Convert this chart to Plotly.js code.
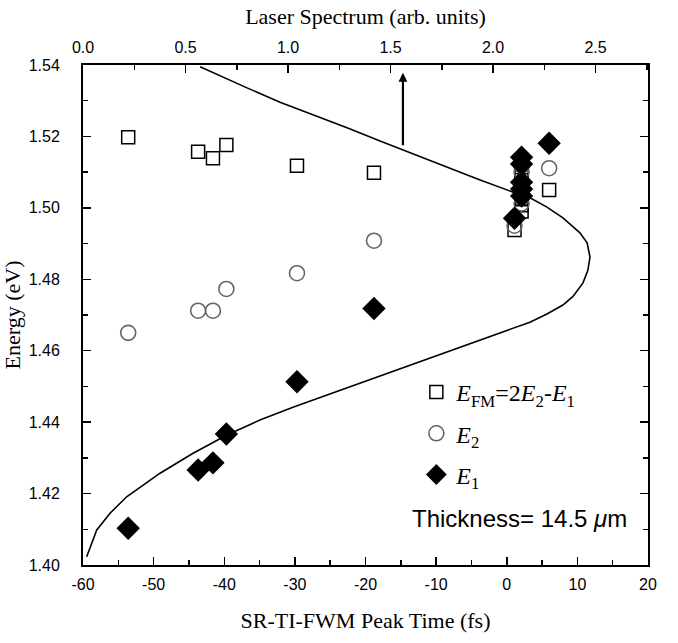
<!DOCTYPE html>
<html>
<head>
<meta charset="utf-8">
<script src="https://cdn.plot.ly/plotly-3.0.1.min.js"></script>
<style>html,body{margin:0;padding:0;background:#fff;}#chart{width:678px;height:643px;}</style>
</head>
<body>
<div id="chart"></div>
<script>
// ---- Data ----
// Peak times (fs) for each measurement
const peakTime = [-53.6, -43.7, -41.6, -39.7, -29.7, -18.8, 1.1, 2.1, 2.1, 2.1, 2.1, 2.1, 6.0];
// E1 (eV)
const energyE1 = [1.4103, 1.4266, 1.4286, 1.4367, 1.4513, 1.4718, 1.4971, 1.5142, 1.5123, 1.5072, 1.5053, 1.5033, 1.5181];
// E2 (eV)
const energyE2 = [1.4650, 1.4712, 1.4712, 1.4773, 1.4817, 1.4908, 1.4950, 1.5118, 1.5100, 1.5048, 1.5030, 1.5012, 1.5111];
// E_FM = 2E2 - E1 (eV)
const energyFM = [1.5198, 1.5157, 1.5139, 1.5176, 1.5118, 1.5098, 1.4938, 1.5094, 1.5077, 1.5024, 1.5007, 1.4990, 1.5050];

// Laser spectrum (arb. units) vs energy (eV)
const spectrumAmp = [0.018, 0.067, 0.132, 0.213, 0.376, 0.537, 0.702, 0.863, 1.024, 1.190, 1.351, 1.498,
  1.610, 1.776, 1.937, 2.098, 2.180, 2.263, 2.341, 2.390, 2.439, 2.463, 2.473, 2.459, 2.424,
  2.341, 2.263, 2.180, 2.098, 1.937, 1.776, 1.644, 1.449, 1.288, 1.122, 0.961, 0.800, 0.717, 0.571];
const spectrumEnergy = [1.4023, 1.4098, 1.4145, 1.4191, 1.4257, 1.4313, 1.4364, 1.4406, 1.4442, 1.4476, 1.4509, 1.4540,
  1.4562, 1.4596, 1.4630, 1.4661, 1.4680, 1.4703, 1.4728, 1.4752, 1.4790, 1.4826, 1.4862, 1.4902, 1.4930,
  1.4972, 1.5002, 1.5028, 1.5044, 1.5078, 1.5114, 1.5142, 1.5187, 1.5224, 1.5260, 1.5296, 1.5336, 1.5358, 1.5395];

// Arrow marking the laser spectrum
const arrowTime = -14.7;
const arrowEnergy = 1.5378;

// Tick labels
const xTickVals = [-60, -50, -40, -30, -20, -10, 0, 10, 20];
const yTickVals = [1.40, 1.42, 1.44, 1.46, 1.48, 1.50, 1.52, 1.54];
const topTickVals = [0.0, 0.5, 1.0, 1.5, 2.0, 2.5];

const serif = 'Liberation Serif, Times New Roman, serif';
const sans = 'Liberation Sans, Arial, sans-serif';

const traces = [
  {
    x: peakTime, y: energyFM, type: 'scatter', mode: 'markers',
    name: '<i>E</i><sub>FM</sub>=2<i>E</i><sub>2</sub>-<i>E</i><sub>1</sub>', legendgroup: 'a',
    marker: {symbol: 'square-open', size: 13, color: '#000', line: {width: 1.5, color: '#000'}},
    xaxis: 'x', yaxis: 'y'
  },
  {
    x: peakTime, y: energyE2, type: 'scatter', mode: 'markers',
    name: '<i>E</i><sub>2</sub>', legendgroup: 'b',
    marker: {symbol: 'circle-open', size: 15, color: '#666', line: {width: 1.6, color: '#666'}},
    xaxis: 'x', yaxis: 'y'
  },
  {
    x: peakTime, y: energyE1, type: 'scatter', mode: 'markers',
    name: '<i>E</i><sub>1</sub>', legendgroup: 'c',
    marker: {symbol: 'diamond', size: 18, color: '#000', line: {width: 0}},
    xaxis: 'x', yaxis: 'y'
  },
  {
    x: spectrumAmp, y: spectrumEnergy, type: 'scatter', mode: 'lines',
    name: 'Laser spectrum', showlegend: false,
    line: {color: '#000', width: 1.6},
    xaxis: 'x2', yaxis: 'y'
  }
];

const axisCommon = {
  showline: true, linecolor: '#000', linewidth: 2,
  ticks: 'inside', ticklen: 8, tickwidth: 1.5, tickcolor: '#000',
  showgrid: false, zeroline: false,
  tickfont: {family: sans, size: 16, color: '#000'}
};

const layout = {
  width: 678, height: 643,
  margin: {l: 83, r: 30, t: 65, b: 78},
  paper_bgcolor: '#fff', plot_bgcolor: '#fff',
  showlegend: true,
  legend: {
    x: 0.59, y: 0.39, xanchor: 'left', yanchor: 'top',
    bgcolor: 'rgba(0,0,0,0)', borderwidth: 0,
    font: {family: serif, size: 24, color: '#000'},
    itemwidth: 30, tracegroupgap: 7
  },
  xaxis: Object.assign({}, axisCommon, {
    range: [-60, 20], tickvals: xTickVals, ticktext: xTickVals.map(v => String(v)),
    minor: {dtick: 5, ticks: 'inside', ticklen: 5, tickwidth: 1.5, tickcolor: '#000'},
    ticklabelstandoff: 4,
    title: {text: 'SR-TI-FWM Peak Time (fs)', font: {family: serif, size: 22, color: '#000'}, standoff: 20}
  }),
  xaxis2: Object.assign({}, axisCommon, {
    overlaying: 'x', side: 'top', anchor: 'y',
    range: [0, 2.756], tickvals: topTickVals, ticktext: topTickVals.map(v => v.toFixed(1)),
    minor: {dtick: 0.25, ticks: 'inside', ticklen: 5, tickwidth: 1.5, tickcolor: '#000'},
    ticklabelstandoff: 4,
    title: {text: 'Laser Spectrum (arb. units)', font: {family: serif, size: 22, color: '#000'}, standoff: 8}
  }),
  yaxis: Object.assign({}, axisCommon, {
    range: [1.40, 1.54], tickvals: yTickVals, ticktext: yTickVals.map(v => v.toFixed(2)),
    mirror: 'ticks',
    minor: {dtick: 0.01, ticks: 'inside', ticklen: 5, tickwidth: 1.5, tickcolor: '#000'},
    ticklabelstandoff: 18,
    title: {text: 'Energy (eV)', font: {family: serif, size: 22, color: '#000'}, standoff: 2}
  }),
  annotations: [
    {
      xref: 'x', yref: 'y', x: arrowTime, y: arrowEnergy,
      ax: 0, ay: 74, axref: 'pixel', ayref: 'pixel',
      text: '', showarrow: true, arrowhead: 2, arrowsize: 0.8, arrowwidth: 2.2, arrowcolor: '#000'
    },
    {
      xref: 'paper', yref: 'paper', x: 0.773, y: 0.094, xanchor: 'center', yanchor: 'middle',
      text: 'Thickness= 14.5 <i>μ</i>m', showarrow: false,
      font: {family: sans, size: 24, color: '#000'}
    }
  ]
};

Plotly.newPlot('chart', traces, layout, {displayModeBar: false, staticPlot: true});
</script>
</body>
</html>
